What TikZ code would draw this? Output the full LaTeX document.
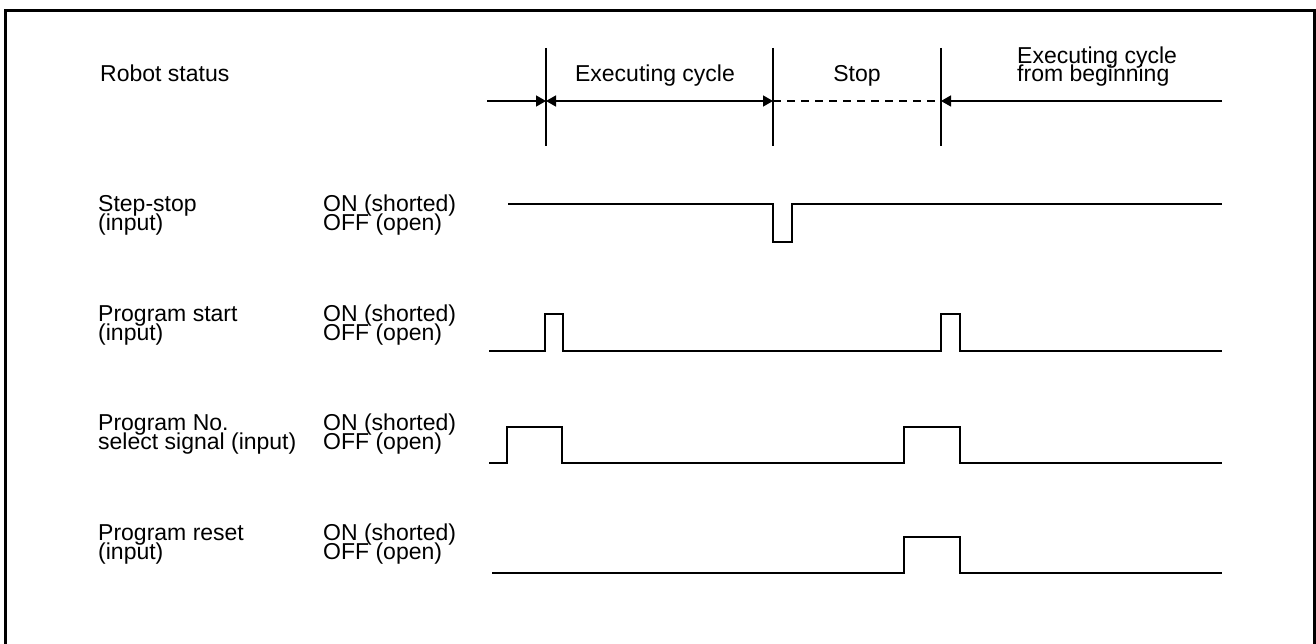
\documentclass[tikz,border=0pt]{standalone}
\usepackage{fontspec}
\setmainfont{Liberation Sans}
\usetikzlibrary{arrows.meta}
\begin{document}
\begin{tikzpicture}[x=1pt,y=-1pt,
  lbl/.style={anchor=base west,inner sep=0pt,font=\fontsize{23}{19}\selectfont},
  clbl/.style={anchor=base,inner sep=0pt,font=\fontsize{23}{19}\selectfont},
  wave/.style={line width=1.5pt,line join=miter},
  tick/.style={line width=1.4pt},
  dim/.style={line width=1.4pt},
  tipr/.style={-{Triangle[length=10pt,width=11pt]}},
  tipb/.style={{Triangle[length=10pt,width=11pt]}-{Triangle[length=10pt,width=11pt]}},
  dashline/.style={line width=1.2pt,dash pattern=on 8pt off 6pt},
]
\useasboundingbox (0,0) rectangle (1316,644);
\draw[line width=3pt] (5.5,650) -- (5.5,10.5) -- (1314.5,10.5) -- (1314.5,650);

% timing marks
\coordinate (a0) at (487,101);
\coordinate (a1) at (546,101);
\coordinate (a2) at (773,101);
\coordinate (a3) at (941,101);
\coordinate (a4) at (1222,101);
\draw[tick] (546,48) -- (546,146);
\draw[tick] (773,48) -- (773,146);
\draw[tick] (941,48) -- (941,146);
\draw[dim,tipr] (a0) -- (a1);
\draw[dim,tipb] (a1) -- (a2);
\draw[dashline] (a2) -- (a3);
\draw[dim,tipr] (a4) -- (a3);

% header labels
\node[lbl] (rs) at (100,82) {Robot status};
\node[clbl] (ec) at (655,82) {Executing cycle};
\node[clbl] (st) at (857,82) {Stop};
\node[lbl] (eb1) at (1017,64) {Executing cycle};
\node[lbl] (eb2) at (1017,82) {from beginning};

% row labels
\node[lbl] (r1a) at (98,212) {Step-stop};
\node[lbl] (r1b) at (98,231) {(input)};
\node[lbl] (r1c) at (323,212) {ON (shorted)};
\node[lbl] (r1d) at (323,231) {OFF (open)};

\node[lbl] (r2a) at (98,321) {Program start};
\node[lbl] (r2b) at (98,340) {(input)};
\node[lbl] (r2c) at (323,321) {ON (shorted)};
\node[lbl] (r2d) at (323,340) {OFF (open)};

\node[lbl] (r3a) at (98,430) {Program No.};
\node[lbl] (r3b) at (98,449) {select signal (input)};
\node[lbl] (r3c) at (323,430) {ON (shorted)};
\node[lbl] (r3d) at (323,449) {OFF (open)};

\node[lbl] (r4a) at (98,540) {Program reset};
\node[lbl] (r4b) at (98,559) {(input)};
\node[lbl] (r4c) at (323,540) {ON (shorted)};
\node[lbl] (r4d) at (323,559) {OFF (open)};

% waveforms
\draw[wave] (508,204) -- (773,204) -- (773,242) -- (792,242) -- (792,204) -- (1222,204);
\draw[wave] (489,351) -- (545,351) -- (545,314) -- (563,314) -- (563,351) -- (941,351) -- (941,314) -- (960,314) -- (960,351) -- (1222,351);
\draw[wave] (489,463) -- (507,463) -- (507,427) -- (562,427) -- (562,463) -- (904,463) -- (904,427) -- (960,427) -- (960,463) -- (1222,463);
\draw[wave] (492,573) -- (904,573) -- (904,537) -- (960,537) -- (960,573) -- (1222,573);
\end{tikzpicture}
\end{document}
